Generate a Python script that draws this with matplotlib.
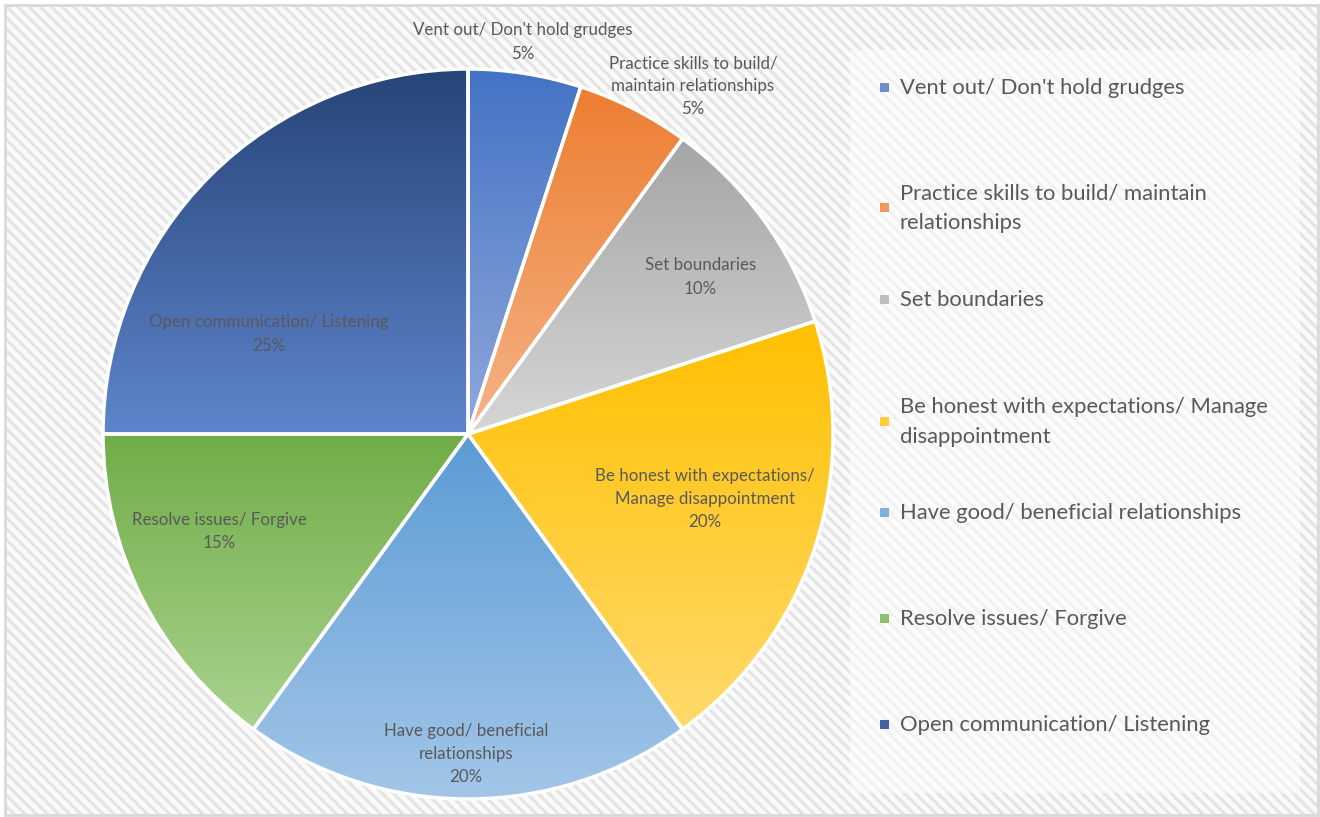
import numpy as np
import matplotlib.pyplot as plt
from matplotlib.patches import Rectangle
from matplotlib.colors import to_rgb

plt.rcParams['font.family'] = ['Lato', 'DejaVu Sans']
plt.rcParams['hatch.linewidth'] = 2.2

categories = ["Vent out/ Don't hold grudges",
              "Practice skills to build/ maintain relationships",
              "Set boundaries",
              "Be honest with expectations/ Manage disappointment",
              "Have good/ beneficial relationships",
              "Resolve issues/ Forgive",
              "Open communication/ Listening"]
shares = [5, 5, 10, 20, 20, 15, 25]

# wrapped text for the slice labels and the legend
label_text = ["Vent out/ Don't hold grudges",
              "Practice skills to build/\nmaintain relationships",
              "Set boundaries",
              "Be honest with expectations/\nManage disappointment",
              "Have good/ beneficial\nrelationships",
              "Resolve issues/ Forgive",
              "Open communication/ Listening"]
legend_text = ["Vent out/ Don't hold grudges",
               "Practice skills to build/ maintain\nrelationships",
               "Set boundaries",
               "Be honest with expectations/ Manage\ndisappointment",
               "Have good/ beneficial relationships",
               "Resolve issues/ Forgive",
               "Open communication/ Listening"]

# gradient fill per slice: (top colour, bottom colour)
grad_colors = [("#4472C4", "#8FA9DC"),
               ("#ED7D31", "#F5B487"),
               ("#A5A5A5", "#D6D6D6"),
               ("#FFC000", "#FFDA6C"),
               ("#5B9BD5", "#A3C6E8"),
               ("#70AD47", "#AAD28F"),
               ("#264478", "#5E85CC")]

# label placement (in pie-radius units from the centre)
label_pos = [(0.151, 1.074), (0.616, 0.953), (0.636, 0.430), (0.649, -0.178),
             (-0.005, -0.877), (-0.682, -0.266), (-0.545, 0.274)]

# legend row centres in pixels from the top
legend_y = [88, 208, 300, 422, 513, 619, 725]

W, H = 1320, 817
TXT = "#595959"

fig = plt.figure(figsize=(W / 100, H / 100), dpi=100)
fig.patch.set_facecolor("white")


def fx(px):
    return px / W


def fy(py):
    return 1 - py / H


# striped chart area + border
bg = Rectangle((fx(5), fy(815)), fx(1313), 810 / H, transform=fig.transFigure,
               facecolor="#fafafa", edgecolor="#e4e4e4", linewidth=0,
               hatch="\\\\\\", zorder=0)
fig.patches.append(bg)
border = Rectangle((fx(5), fy(815)), fx(1313), 810 / H, transform=fig.transFigure,
                   facecolor="none", edgecolor="#d9d9d9", linewidth=2, zorder=1)
fig.patches.append(border)

# lighter legend panel
panel = Rectangle((fx(850), fy(793)), fx(450), 743 / H, transform=fig.transFigure,
                  facecolor="white", alpha=0.5, edgecolor="none", zorder=1)
fig.patches.append(panel)

# pie axes: centre (468, 434), radius 365 px
cx, cy, r = 468, 434, 365
ax = fig.add_axes([fx(cx - r), fy(cy + r), 2 * r / W, 2 * r / H])
ax.set_zorder(5)
ax.patch.set_visible(False)
ax.axis("off")

wedges, _ = ax.pie(shares, startangle=90, counterclock=False, radius=1,
                   wedgeprops=dict(facecolor="none", edgecolor="white", linewidth=2.5))

for w, (top, bot) in zip(wedges, grad_colors):
    verts = w.get_path().transformed(w.get_patch_transform()).vertices
    x0, x1 = verts[:, 0].min(), verts[:, 0].max()
    y0, y1 = verts[:, 1].min(), verts[:, 1].max()
    t = np.linspace(0, 1, 256)[:, None]
    grad = (1 - t) * np.array(to_rgb(top)) + t * np.array(to_rgb(bot))
    img = ax.imshow(grad[:, None, :].repeat(2, axis=1), extent=(x0, x1, y0, y1),
                    origin="upper", aspect="auto", zorder=1, interpolation="bilinear")
    img.set_clip_path(w)
    w.set_zorder(2)

for (lx, ly), txt, v in zip(label_pos, label_text, shares):
    ax.text(lx, ly, f"{txt}\n{v}%", ha="center", va="center", fontsize=12.2,
            color=TXT, linespacing=1.55, zorder=3)

ax.set_xlim(-1, 1)
ax.set_ylim(-1, 1)

# legend
for txt, y, (top, bot) in zip(legend_text, legend_y, grad_colors):
    mid = 0.5 * (np.array(to_rgb(top)) + np.array(to_rgb(bot)))
    fig.patches.append(Rectangle((fx(880), fy(y + 4)), fx(9), 9 / H,
                                 transform=fig.transFigure, facecolor=mid,
                                 edgecolor="none", zorder=2))
    fig.text(fx(900), fy(y), txt, ha="left", va="center", fontsize=15.8,
             color=TXT, linespacing=1.6)

fig.savefig("out.png", dpi=100)
